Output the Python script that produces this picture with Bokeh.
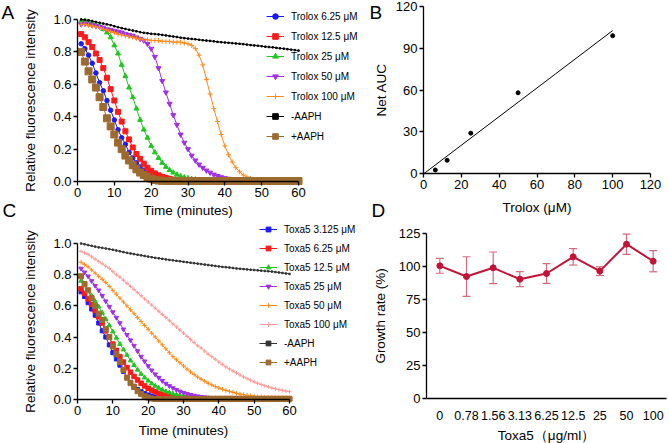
import numpy as np
from bokeh.plotting import figure
from bokeh.layouts import row, column
from bokeh.models import (Range1d, Legend, LegendItem, Label, LinearAxis,
                          ColumnDataSource, Whisker, FixedTicker, NumeralTickFormatter, TeeHead)
from bokeh.embed import file_html
from bokeh.resources import INLINE

FONT = "Liberation Sans"

# ---------------- data ----------------
minutes = list(range(1, 61))

# Panel A (Trolox)
trolox_6_25 = [0.85, 0.82, 0.78, 0.73, 0.67, 0.61, 0.56, 0.50, 0.44, 0.38,
               0.32, 0.27, 0.23, 0.18, 0.145, 0.115, 0.09, 0.07, 0.053, 0.04,
               0.03, 0.022, 0.016, 0.012, 0.009, 0.007, 0.006, 0.006, 0.005, 0.005,
               0.005, 0.005, 0.005, 0.005, 0.005, 0.005, 0.005, 0.005, 0.005, 0.005,
               0.005, 0.005, 0.005, 0.005, 0.005, 0.005, 0.005, 0.005, 0.005, 0.005,
               0.005, 0.005, 0.005, 0.005, 0.005, 0.005, 0.005, 0.005, 0.005, 0.005]
trolox_12_5 = [0.91, 0.89, 0.86, 0.83, 0.79, 0.75, 0.70, 0.64, 0.57, 0.50,
               0.43, 0.37, 0.31, 0.26, 0.21, 0.17, 0.14, 0.11, 0.085, 0.066,
               0.05, 0.038, 0.029, 0.022, 0.016, 0.012, 0.009, 0.007, 0.006, 0.006,
               0.006, 0.006, 0.006, 0.006, 0.006, 0.006, 0.006, 0.006, 0.006, 0.006,
               0.006, 0.006, 0.006, 0.006, 0.006, 0.006, 0.006, 0.006, 0.006, 0.006,
               0.006, 0.006, 0.006, 0.006, 0.006, 0.006, 0.006, 0.006, 0.006, 0.006]
trolox_25 = [0.99, 0.99, 0.985, 0.98, 0.97, 0.96, 0.94, 0.92, 0.89, 0.84,
             0.79, 0.72, 0.65, 0.58, 0.52, 0.45, 0.38, 0.32, 0.27, 0.22,
             0.18, 0.145, 0.115, 0.09, 0.07, 0.055, 0.042, 0.032, 0.025, 0.02,
             0.015, 0.012, 0.01, 0.008, 0.007, 0.007, 0.007, 0.007, 0.007, 0.007,
             0.007, 0.007, 0.007, 0.007, 0.007, 0.007, 0.007, 0.007, 0.007, 0.007,
             0.007, 0.007, 0.007, 0.007, 0.007, 0.007, 0.007, 0.007, 0.007, 0.007]
trolox_50 = [0.97, 0.975, 0.97, 0.965, 0.96, 0.955, 0.95, 0.94, 0.935, 0.93,
             0.925, 0.92, 0.91, 0.905, 0.90, 0.89, 0.88, 0.87, 0.85, 0.82,
             0.77, 0.70, 0.62, 0.55, 0.48, 0.41, 0.35, 0.29, 0.24, 0.20,
             0.16, 0.13, 0.105, 0.085, 0.068, 0.055, 0.043, 0.034, 0.027, 0.021,
             0.017, 0.014, 0.011, 0.009, 0.008, 0.008, 0.008, 0.008, 0.008, 0.008,
             0.008, 0.008, 0.008, 0.008, 0.008, 0.008, 0.008, 0.008, 0.008, 0.008]
trolox_100 = [0.97, 0.97, 0.965, 0.96, 0.955, 0.95, 0.94, 0.935, 0.925, 0.92,
              0.91, 0.905, 0.90, 0.895, 0.89, 0.885, 0.88, 0.875, 0.875, 0.87,
              0.87, 0.87, 0.865, 0.865, 0.865, 0.86, 0.86, 0.86, 0.855, 0.85,
              0.84, 0.82, 0.78, 0.72, 0.63, 0.54, 0.45, 0.37, 0.29, 0.22,
              0.165, 0.12, 0.085, 0.06, 0.04, 0.027, 0.018, 0.012, 0.009, 0.007,
              0.006, 0.006, 0.006, 0.006, 0.006, 0.006, 0.006, 0.006, 0.006, 0.006]
no_aaph_a = [1.0, 0.998, 0.995, 0.99, 0.985, 0.98, 0.975, 0.97, 0.965, 0.958,
             0.952, 0.947, 0.942, 0.937, 0.932, 0.927, 0.922, 0.918, 0.915, 0.912,
             0.91, 0.908, 0.905, 0.902, 0.898, 0.895, 0.892, 0.888, 0.885, 0.882,
             0.88, 0.878, 0.875, 0.872, 0.87, 0.868, 0.865, 0.862, 0.86, 0.858,
             0.856, 0.854, 0.852, 0.85, 0.848, 0.845, 0.842, 0.84, 0.838, 0.835,
             0.832, 0.83, 0.828, 0.825, 0.822, 0.82, 0.817, 0.814, 0.811, 0.808]
aaph_a = [0.80, 0.74, 0.68, 0.63, 0.58, 0.52, 0.46, 0.39, 0.34, 0.29,
          0.24, 0.20, 0.16, 0.13, 0.10, 0.075, 0.055, 0.04, 0.027, 0.017,
          0.01, 0.006, 0.004, 0.003, 0.003, 0.003, 0.003, 0.003, 0.003, 0.003,
          0.003, 0.003, 0.003, 0.003, 0.003, 0.003, 0.003, 0.003, 0.003, 0.003,
          0.003, 0.003, 0.003, 0.003, 0.003, 0.003, 0.003, 0.003, 0.003, 0.003,
          0.003, 0.003, 0.003, 0.003, 0.003, 0.003, 0.003, 0.003, 0.003, 0.003]

# Panel C (Toxa5)
toxa_3_125 = [0.69, 0.66, 0.62, 0.58, 0.54, 0.49, 0.44, 0.40, 0.35, 0.30,
              0.26, 0.22, 0.18, 0.14, 0.11, 0.085, 0.065, 0.05, 0.038, 0.029,
              0.022, 0.017, 0.013, 0.01, 0.008, 0.006, 0.006, 0.006, 0.006, 0.006,
              0.005, 0.005, 0.005, 0.005, 0.005, 0.005, 0.005, 0.005, 0.005, 0.005,
              0.005, 0.005, 0.005, 0.005, 0.005, 0.005, 0.005, 0.005, 0.005, 0.005,
              0.005, 0.005, 0.005, 0.005, 0.005, 0.005, 0.005, 0.005, 0.005, 0.005]
toxa_6_25 = [0.71, 0.68, 0.645, 0.61, 0.57, 0.53, 0.49, 0.44, 0.40, 0.355,
             0.315, 0.275, 0.24, 0.205, 0.175, 0.148, 0.125, 0.104, 0.087, 0.072,
             0.06, 0.049, 0.04, 0.033, 0.027, 0.022, 0.018, 0.015, 0.012, 0.01,
             0.008, 0.008, 0.007, 0.007, 0.007, 0.007, 0.006, 0.006, 0.006, 0.006,
             0.006, 0.006, 0.006, 0.006, 0.006, 0.006, 0.006, 0.006, 0.006, 0.006,
             0.006, 0.006, 0.006, 0.006, 0.006, 0.006, 0.006, 0.006, 0.006, 0.006]
toxa_12_5 = [0.76, 0.73, 0.70, 0.665, 0.63, 0.595, 0.555, 0.515, 0.475, 0.435,
             0.395, 0.355, 0.32, 0.285, 0.25, 0.22, 0.19, 0.163, 0.14, 0.12,
             0.102, 0.087, 0.074, 0.062, 0.052, 0.044, 0.037, 0.03, 0.025, 0.021,
             0.017, 0.014, 0.012, 0.01, 0.008, 0.008, 0.008, 0.007, 0.007, 0.007,
             0.007, 0.007, 0.007, 0.007, 0.007, 0.007, 0.007, 0.007, 0.007, 0.007,
             0.007, 0.007, 0.007, 0.007, 0.007, 0.007, 0.007, 0.007, 0.007, 0.007]
toxa_25 = [0.84, 0.815, 0.79, 0.76, 0.73, 0.70, 0.665, 0.63, 0.595, 0.56,
           0.525, 0.49, 0.45, 0.415, 0.38, 0.345, 0.31, 0.275, 0.245, 0.215,
           0.187, 0.162, 0.14, 0.12, 0.102, 0.087, 0.074, 0.062, 0.052, 0.043,
           0.036, 0.03, 0.025, 0.021, 0.017, 0.014, 0.012, 0.01, 0.009, 0.008,
           0.007, 0.007, 0.007, 0.007, 0.007, 0.007, 0.007, 0.007, 0.007, 0.007,
           0.007, 0.007, 0.007, 0.007, 0.007, 0.007, 0.007, 0.007, 0.007, 0.007]
toxa_50 = [0.88, 0.865, 0.85, 0.83, 0.81, 0.79, 0.77, 0.75, 0.725, 0.70,
           0.675, 0.65, 0.625, 0.60, 0.575, 0.55, 0.525, 0.50, 0.475, 0.45,
           0.425, 0.40, 0.375, 0.35, 0.325, 0.30, 0.275, 0.255, 0.235, 0.215,
           0.195, 0.177, 0.16, 0.144, 0.13, 0.117, 0.104, 0.093, 0.083, 0.074,
           0.066, 0.058, 0.052, 0.046, 0.04, 0.035, 0.031, 0.027, 0.024, 0.021,
           0.019, 0.017, 0.015, 0.014, 0.013, 0.012, 0.011, 0.011, 0.01, 0.01]
toxa_100 = [0.95, 0.94, 0.93, 0.915, 0.90, 0.885, 0.87, 0.855, 0.84, 0.82,
            0.80, 0.785, 0.765, 0.745, 0.725, 0.705, 0.685, 0.665, 0.645, 0.625,
            0.605, 0.585, 0.565, 0.545, 0.525, 0.505, 0.485, 0.465, 0.445, 0.425,
            0.405, 0.385, 0.365, 0.345, 0.33, 0.31, 0.29, 0.275, 0.258, 0.24,
            0.225, 0.21, 0.195, 0.182, 0.17, 0.157, 0.145, 0.134, 0.123, 0.113,
            0.104, 0.096, 0.088, 0.081, 0.074, 0.068, 0.063, 0.058, 0.054, 0.05]
no_aaph_c = [1.0, 0.995, 0.99, 0.985, 0.98, 0.975, 0.972, 0.968, 0.964, 0.96,
             0.955, 0.95, 0.945, 0.94, 0.936, 0.932, 0.928, 0.924, 0.92, 0.916,
             0.912, 0.908, 0.905, 0.902, 0.898, 0.895, 0.892, 0.889, 0.886, 0.883,
             0.88, 0.877, 0.874, 0.871, 0.868, 0.865, 0.862, 0.859, 0.856, 0.853,
             0.85, 0.848, 0.846, 0.843, 0.84, 0.838, 0.836, 0.834, 0.832, 0.83,
             0.828, 0.826, 0.824, 0.822, 0.82, 0.817, 0.814, 0.811, 0.808, 0.805]
aaph_c = [0.79, 0.74, 0.70, 0.65, 0.60, 0.55, 0.51, 0.45, 0.40, 0.34,
          0.29, 0.24, 0.19, 0.14, 0.105, 0.08, 0.053, 0.036, 0.021, 0.013,
          0.006, 0.003, 0.003, 0.003, 0.003, 0.003, 0.003, 0.003, 0.003, 0.003,
          0.003, 0.003, 0.003, 0.003, 0.003, 0.003, 0.003, 0.003, 0.003, 0.003,
          0.003, 0.003, 0.003, 0.003, 0.003, 0.003, 0.003, 0.003, 0.003, 0.003,
          0.003, 0.003, 0.003, 0.003, 0.003, 0.003, 0.003, 0.003, 0.003, 0.003]

# Panel B
trolox_conc = [6.25, 12.5, 25, 50, 100]
net_auc = [2.5, 9.5, 29, 58, 99]

# Panel D
doses = ["0", "0.78", "1.56", "3.13", "6.25", "12.5", "25", "50", "100"]
growth_rate = [100.5, 92.4, 99.0, 90.4, 94.7, 107.3, 96.5, 116.9, 104.0]
growth_sd = [5.6, 15.0, 12.0, 5.7, 7.5, 6.2, 3.3, 7.7, 8.0]

# ---------------- helpers ----------------
def style_axis(ax, label, label_standoff):
    ax.axis_label = label
    ax.axis_line_color = "black"
    ax.axis_line_width = 1.3
    ax.major_tick_line_color = "black"
    ax.major_tick_line_width = 1.3
    ax.major_tick_out = 4
    ax.major_tick_in = 0
    ax.minor_tick_line_color = None
    ax.major_label_text_font = FONT
    ax.major_label_text_font_size = "13px"
    ax.major_label_text_color = "black"
    ax.major_label_standoff = 2
    ax.axis_label_text_font = FONT
    ax.axis_label_text_font_size = "13.5px"
    ax.axis_label_text_font_style = "normal"
    ax.axis_label_text_color = "black"
    ax.axis_label_standoff = label_standoff


def placed_figure(width, height, xpx, xval, ypx, yval):
    """Figure whose frame fills the canvas; data xval[0..1] lands at pixels xpx[0..1]."""
    sx = (xpx[1] - xpx[0]) / (xval[1] - xval[0])
    sy = (ypx[0] - ypx[1]) / (yval[1] - yval[0])
    xr = Range1d(xval[0] - xpx[0] / sx, xval[0] + (width - xpx[0]) / sx)
    yr = Range1d(yval[0] - (height - ypx[0]) / sy, yval[0] + ypx[0] / sy)
    p = figure(width=width, height=height, x_range=xr, y_range=yr,
               output_backend="svg", toolbar_location=None,
               x_axis_location=None, y_axis_location=None,
               min_border=0, min_border_left=0, min_border_right=0,
               min_border_top=0, min_border_bottom=0)
    p.xgrid.visible = False
    p.ygrid.visible = False
    p.outline_line_color = None
    p.background_fill_color = "white"
    p.border_fill_color = "white"
    return p


def add_axes(p, xval, yval, xticks, yticks, xlabel, ylabel, xstand, ystand, yfmt=None):
    xa = LinearAxis(fixed_location=yval[0], bounds=(xval[0], xval[1]),
                    ticker=FixedTicker(ticks=xticks))
    ya = LinearAxis(fixed_location=xval[0], bounds=(yval[0], yval[1]),
                    ticker=FixedTicker(ticks=yticks))
    if yfmt:
        ya.formatter = NumeralTickFormatter(format=yfmt)
    style_axis(xa, xlabel, xstand)
    style_axis(ya, ylabel, ystand)
    p.add_layout(xa, "below")
    p.add_layout(ya, "left")
    return xa, ya


def panel_label(p, text, x, top_y):
    p.add_layout(Label(x=x, y=p.height - top_y, x_units="screen", y_units="screen", text=text,
                       text_font=FONT, text_font_size="19px", text_color="black",
                       text_baseline="top", text_align="left"))


def curve_panel(height, xpx, ypx, series, leg_x, leg_top, leg_h, leg_sp, xstand):
    p = placed_figure(365, height, xpx, (0, 60), ypx, (0, 1.0))
    items = []
    for name, vals, color, marker, msize in series:
        src = ColumnDataSource(dict(t=minutes, v=vals))
        lr = p.line("t", "v", source=src, line_color=color, line_width=1)
        sr = p.scatter("t", "v", source=src, marker=marker, size=msize,
                       fill_color=color, line_color=color, line_width=1)
        items.append(LegendItem(label=name, renderers=[lr, sr]))
    n = len(items)
    leg_height = n * leg_h + (n - 1) * leg_sp
    leg = Legend(items=items, location=(leg_x, height - leg_top - leg_height),
                 orientation="vertical", padding=0, margin=0, spacing=leg_sp,
                 label_height=leg_h, glyph_height=leg_h, glyph_width=18,
                 label_standoff=7, label_text_font=FONT, label_text_font_size="10px",
                 label_text_color="black",
                 border_line_color=None, background_fill_alpha=0)
    p.add_layout(leg)
    add_axes(p, (0, 60), (0, 1.0), [0, 10, 20, 30, 40, 50, 60],
             [0, 0.2, 0.4, 0.6, 0.8, 1.0],
             "Time (minutes)", "Relative fluorescence intensity", xstand, 12, "0.0")
    return p


# ---------------- Panel A ----------------
series_a = [
    ("Trolox 6.25 μM", trolox_6_25, "#1a1aff", "circle", 4.5),
    ("Trolox 12.5 μM", trolox_12_5, "#ff1a1a", "square", 5),
    ("Trolox 25 μM", trolox_25, "#22c522", "triangle", 5),
    ("Trolox 50 μM", trolox_50, "#a030e8", "inverted_triangle", 5),
    ("Trolox 100 μM", trolox_100, "#ff8a1a", "cross", 5),
    ("-AAPH", no_aaph_a, "black", "square", 1.5),
    ("+AAPH", aaph_a, "#9c6b30", "square", 7),
]
pA = curve_panel(222, (77, 298), (181, 19), series_a, 266, 9, 14, 6, 3)
panel_label(pA, "A", 1, 1)
panel_label(pA, "C", 2, 199)

# ---------------- Panel C ----------------
series_c = [
    ("Toxa5 3.125 μM", toxa_3_125, "#1a1aff", "square", 4),
    ("Toxa5 6.25 μM", toxa_6_25, "#ff1a1a", "square", 4.5),
    ("Toxa5 12.5 μM", toxa_12_5, "#22c522", "triangle", 4.5),
    ("Toxa5 25 μM", toxa_25, "#a030e8", "inverted_triangle", 4.5),
    ("Toxa5 50 μM", toxa_50, "#ff8a1a", "cross", 4.5),
    ("Toxa5 100 μM", toxa_100, "#ff9a9a", "cross", 4),
    ("-AAPH", no_aaph_c, "#333333", "square", 1.5),
    ("+AAPH", aaph_c, "#9c6b30", "square", 5),
]
pC = curve_panel(221, (77, 289), (177, 21), series_c, 259, 1, 12, 7, 5)

# ---------------- Panel B ----------------
pB = placed_figure(304, 222, (58, 285), (0, 120), (173, 6), (0, 120))
slope, intercept = np.polyfit(trolox_conc, net_auc, 1)
fit_x = [-intercept / slope, max(trolox_conc)]
fit_y = [slope * x + intercept for x in fit_x]
pB.line(fit_x, fit_y, line_color="black", line_width=1)
pB.scatter(trolox_conc, net_auc, marker="circle", size=4, fill_color="black", line_color="black")
add_axes(pB, (0, 120), (0, 120), [0, 20, 40, 60, 80, 100, 120], [0, 30, 60, 90, 120],
         "Trolox (μM)", "Net AUC", 8, 4)
panel_label(pB, "B", 4, 1)
panel_label(pB, "D", 6, 199)

# ---------------- Panel D (dose categories at evenly spaced positions) ----------------
dose_pos = [i + 0.5 for i in range(len(doses))]
pD = placed_figure(304, 221, (61, 301), (0, len(doses)), (176, 11), (0, 125))
dsrc = ColumnDataSource(dict(
    pos=dose_pos, g=growth_rate,
    upper=[g + s for g, s in zip(growth_rate, growth_sd)],
    lower=[g - s for g, s in zip(growth_rate, growth_sd)],
))
err_color = "#d46a7e"
pD.add_layout(Whisker(source=dsrc, base="pos", upper="upper", lower="lower",
                      line_color=err_color, line_width=1.2,
                      upper_head=TeeHead(size=8, line_color=err_color, line_width=1.2),
                      lower_head=TeeHead(size=8, line_color=err_color, line_width=1.2)))
pD.line("pos", "g", source=dsrc, line_color="#c41236", line_width=2)
pD.scatter("pos", "g", source=dsrc, marker="circle", size=6,
           fill_color="#c41236", line_color="#c41236")
xaD, yaD = add_axes(pD, (0, len(doses)), (0, 125), dose_pos, [0, 25, 50, 75, 100, 125],
                    "Toxa5（μg/ml）", "Growth rate (%)", 5, 8)
xaD.major_label_overrides = {p: d for p, d in zip(dose_pos, doses)}
xaD.major_tick_line_color = None
xaD.major_label_text_font_size = "12.5px"
xaD.major_label_standoff = 8

layout = column(row(pA, pB), row(pC, pD))
open("out.html", "w").write(file_html(layout, INLINE))
